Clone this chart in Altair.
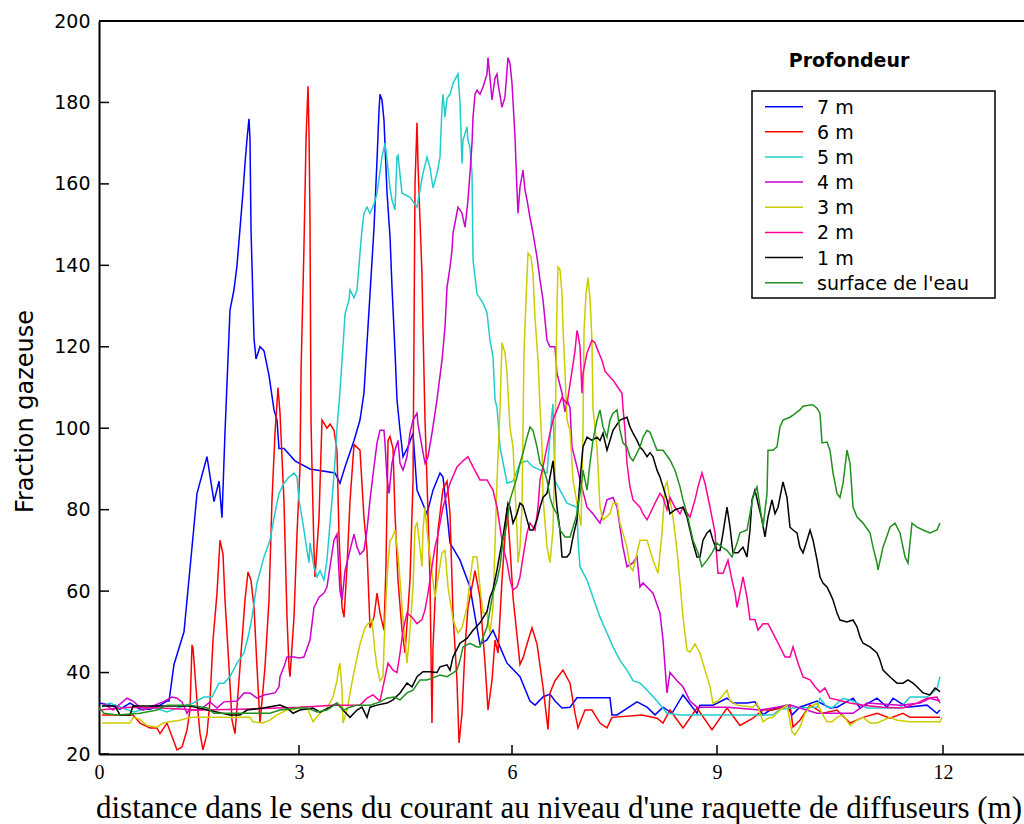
import altair as alt
import pandas as pd

SERIES = ["7 m", "6 m", "5 m", "4 m", "3 m", "2 m", "1 m", "surface de l'eau"]
COLORS = ["#0000ff", "#ff0000", "#22cccc", "#cc00cc", "#cccc00", "#ff0099", "#000000", "#209020"]
X_TICKS = [0, 3, 6, 9, 12]
Y_TICKS = [20, 40, 60, 80, 100, 120, 140, 160, 180, 200]

P_7M = [(0, 32.5), (0.165, 32), (0.315, 31), (0.465, 32.5), (0.615, 31), (0.765, 31), (0.915, 32), (1.02, 33),
        (1.05, 33), (1.125, 42), (1.275, 50), (1.425, 76), (1.47, 84), (1.62, 93), (1.725, 82), (1.80, 87),
        (1.845, 78), (1.89, 99), (1.965, 129), (2.025, 134), (2.07, 140), (2.115, 149), (2.16, 158), (2.19, 165),
        (2.22, 171), (2.25, 176), (2.265, 171), (2.28, 149), (2.325, 122), (2.355, 117), (2.415, 120), (2.475, 119),
        (2.55, 113), (2.625, 104.5), (2.67, 102), (2.70, 95), (2.775, 95), (2.94, 92), (3.155, 90), (3.507, 89),
        (3.577, 86.5), (3.648, 90.5), (3.775, 97), (3.859, 102), (3.915, 108.6), (4.0, 133), (4.056, 149),
        (4.099, 166), (4.127, 178), (4.141, 182), (4.169, 180.6), (4.197, 175.6), (4.239, 158), (4.282, 147),
        (4.31, 134.6), (4.352, 119), (4.38, 107), (4.423, 99.5), (4.465, 93), (4.535, 95.4), (4.606, 98.8),
        (4.662, 84.8), (4.803, 79), (4.887, 84.8), (4.986, 89), (5.028, 88), (5.085, 79), (5.127, 71.8),
        (5.268, 67.6), (5.408, 61), (5.507, 51), (5.549, 47), (5.648, 48), (5.732, 50.4), (5.831, 46.3),
        (5.93, 42.3), (6.117, 39), (6.263, 33), (6.337, 32), (6.454, 34), (6.556, 34.7), (6.629, 33),
        (6.732, 31.3), (6.849, 31.5), (6.951, 33.8), (7.434, 33.8), (7.463, 29.6), (7.537, 29.6), (7.829, 32.8),
        (7.976, 31.5), (8.093, 29.6), (8.21, 31.5), (8.342, 30), (8.502, 34.5), (8.707, 30), (8.751, 32),
        (8.941, 32), (9.133, 33.7), (9.212, 32.5), (9.398, 32.5), (9.504, 32.8), (9.611, 29.6), (9.704, 30.8),
        (9.929, 32), (9.996, 29.6), (10.10, 31.5), (10.328, 33), (10.50, 31.3), (10.593, 31.5), (10.806, 33.7),
        (10.899, 31.3), (11.124, 33.7), (11.257, 31.5), (11.337, 33.7), (11.522, 31.5), (11.788, 32),
        (11.92, 30), (11.96, 30.8)]

P_6M = [(0.045, 29.6), (0.51, 29.6), (0.615, 27.6), (0.765, 26.4), (0.87, 26.4), (0.915, 25), (1.02, 27.6),
        (1.17, 21), (1.245, 21.7), (1.32, 25.9), (1.365, 30.8), (1.395, 46.8), (1.41, 46), (1.47, 33),
        (1.515, 25), (1.56, 21), (1.62, 25), (1.665, 33), (1.71, 48), (1.77, 59.5), (1.815, 72.5), (1.86, 69),
        (1.89, 57.8), (1.95, 41.4), (1.995, 28.3), (2.04, 25), (2.115, 41.4), (2.19, 57.8), (2.235, 64.7),
        (2.28, 62.7), (2.325, 56), (2.37, 41.4), (2.415, 27.6), (2.445, 33), (2.49, 41.4), (2.55, 57.8),
        (2.595, 82.4), (2.64, 98.8), (2.685, 110), (2.715, 103.7), (2.775, 82), (2.82, 53.6), (2.85, 41.4),
        (2.865, 39), (2.925, 53.6), (2.97, 74), (3.014, 90.5), (3.03, 115), (3.07, 144.5), (3.1, 171.5),
        (3.127, 184), (3.141, 172.5), (3.155, 151), (3.169, 102), (3.183, 90.5), (3.211, 70), (3.225, 63.5),
        (3.282, 78), (3.324, 102), (3.394, 100), (3.437, 101), (3.493, 99.5), (3.535, 94.6), (3.563, 74),
        (3.606, 56), (3.634, 53.6), (3.676, 66), (3.718, 82), (3.775, 96), (3.859, 94.6), (3.915, 78),
        (3.958, 70), (4.0, 51), (4.056, 53.6), (4.099, 59.5), (4.141, 54.6), (4.197, 50.4), (4.225, 66),
        (4.254, 97), (4.282, 98), (4.324, 95), (4.352, 79), (4.394, 62.7), (4.451, 50.4), (4.493, 44.8),
        (4.563, 62.7), (4.606, 87), (4.634, 160), (4.662, 175), (4.676, 165), (4.704, 151), (4.732, 138),
        (4.746, 125), (4.775, 102), (4.803, 87), (4.845, 62.7), (4.873, 27.6), (4.887, 46), (4.958, 75),
        (5.028, 85), (5.085, 87), (5.127, 79), (5.169, 54.6), (5.225, 38), (5.254, 22.7), (5.296, 30),
        (5.338, 46), (5.38, 56), (5.479, 65), (5.549, 58.5), (5.62, 42.3), (5.662, 30.8), (5.718, 38),
        (5.761, 48), (5.803, 44.8), (5.859, 62.7), (5.93, 80.6), (5.972, 70.8), (6.015, 58.5), (6.117, 42),
        (6.161, 43.6), (6.22, 47), (6.293, 51), (6.366, 47), (6.454, 36.4), (6.527, 26), (6.556, 35),
        (6.629, 38), (6.746, 40.6), (6.849, 37.4), (6.922, 30), (6.966, 26.4), (7.068, 30.8), (7.17, 30.8),
        (7.288, 27.6), (7.39, 26.4), (7.463, 29), (7.902, 29.6), (8.122, 28.8), (8.21, 27.6), (8.312, 30.8),
        (8.502, 26.4), (8.707, 31.3), (8.927, 26), (9.133, 31.3), (9.305, 27), (9.478, 28.8), (9.611, 30.8),
        (9.743, 30.8), (9.876, 31.5), (9.969, 32), (10.009, 26.6), (10.10, 28.3), (10.235, 32), (10.407, 30),
        (10.593, 30.8), (10.766, 27.6), (10.939, 29), (11.124, 30), (11.297, 28.8), (11.469, 30), (11.562, 29),
        (11.96, 29)]

P_5M = [(0.045, 31.8), (0.165, 32.5), (0.51, 30.3), (0.81, 31.5), (1.02, 30.3), (1.215, 31.5), (1.41, 32.5),
        (1.575, 34), (1.695, 34), (1.80, 37.4), (1.875, 37.4), (1.965, 39), (2.07, 42.3), (2.175, 44.8),
        (2.25, 49.7), (2.295, 53.6), (2.37, 62), (2.475, 68.4), (2.565, 72.5), (2.625, 78), (2.70, 84),
        (2.775, 86.5), (2.85, 88), (2.925, 89), (2.97, 88), (3.0, 82.4), (3.07, 75), (3.113, 70), (3.141, 67),
        (3.155, 71.8), (3.211, 66), (3.254, 63.5), (3.296, 65), (3.352, 62.7), (3.394, 67.6), (3.437, 76.7),
        (3.465, 82.4), (3.507, 92), (3.535, 100), (3.577, 109), (3.634, 124), (3.648, 128), (3.704, 131.5),
        (3.718, 134), (3.775, 132), (3.817, 134), (3.859, 143), (3.887, 148.7), (3.915, 152.8), (3.958, 154.3),
        (4.0, 152.8), (4.056, 155), (4.099, 157.7), (4.141, 163), (4.169, 166.6), (4.211, 170), (4.239, 166),
        (4.282, 159), (4.31, 156), (4.352, 153.6), (4.38, 166.6), (4.394, 167), (4.451, 157.7), (4.563, 156.7),
        (4.662, 154.3), (4.704, 158.5), (4.746, 162.6), (4.803, 166.6), (4.845, 164), (4.887, 159),
        (4.944, 162.6), (4.986, 166.6), (5.014, 178.8), (5.028, 182), (5.056, 176.4), (5.085, 181),
        (5.127, 182), (5.169, 184.7), (5.239, 187), (5.268, 180), (5.296, 165), (5.31, 170.7), (5.366, 174),
        (5.38, 170.7), (5.408, 169), (5.437, 162.6), (5.451, 141.3), (5.507, 133), (5.592, 130.7),
        (5.648, 128.3), (5.69, 121.6), (5.732, 117.5), (5.761, 107), (5.789, 105), (5.831, 95.4), (5.93, 86.5),
        (6.015, 87), (6.117, 91.4), (6.22, 92), (6.307, 90.5), (6.512, 89), (6.585, 103.7), (6.6, 106),
        (6.629, 87), (6.702, 84.8), (6.805, 81.6), (6.951, 80.6), (6.966, 72.5), (6.995, 66), (7.098, 62.7),
        (7.185, 58.5), (7.288, 53.6), (7.39, 49.7), (7.478, 46.3), (7.58, 43), (7.683, 40.6), (7.771, 38),
        (7.873, 37.4), (7.976, 35.7), (8.122, 33), (8.268, 30), (8.459, 29.6), (9.743, 29.6), (9.836, 31),
        (10.009, 31.3), (10.328, 31.5), (10.367, 33.7), (10.46, 31.5), (10.54, 31.5), (10.673, 33.7),
        (10.806, 33), (10.991, 31.3), (11.429, 31.3), (11.562, 34), (11.788, 34), (11.92, 36), (11.96, 39)]

P_4M = [(0.06, 32.5), (0.21, 30.8), (0.42, 33.7), (0.51, 33), (0.66, 30.8), (0.96, 32.8), (1.095, 34),
        (1.17, 33.7), (1.245, 32.8), (1.32, 30), (1.35, 30.8), (1.515, 30.8), (1.665, 32.8), (1.77, 31.3),
        (1.875, 32.8), (2.07, 33), (2.175, 35), (2.265, 35), (2.37, 33.7), (2.475, 34.5), (2.64, 35),
        (2.70, 36.5), (2.715, 39), (2.775, 41.4), (2.82, 43.8), (2.925, 43.8), (3.0, 43.6), (3.07, 43.8),
        (3.155, 48), (3.211, 56), (3.282, 58.5), (3.352, 59.5), (3.394, 61), (3.437, 66), (3.493, 72.5),
        (3.535, 74), (3.577, 60), (3.606, 57.8), (3.648, 65), (3.718, 70), (3.775, 74), (3.817, 70.8),
        (3.859, 69), (3.915, 70), (3.958, 75), (4.0, 82.4), (4.056, 90.5), (4.099, 96.4), (4.141, 99.5),
        (4.197, 99.5), (4.211, 96.4), (4.239, 88), (4.268, 84), (4.31, 91.4), (4.352, 94.6), (4.394, 97),
        (4.423, 91.4), (4.465, 89.7), (4.521, 93), (4.563, 98.8), (4.606, 102), (4.662, 103.7), (4.676, 101),
        (4.732, 95.4), (4.775, 91.4), (4.817, 93), (4.873, 98.8), (4.944, 107), (5.014, 116.7), (5.056, 124.8),
        (5.085, 134.6), (5.127, 139.6), (5.155, 143.7), (5.169, 147.9), (5.197, 150.4), (5.239, 154.3),
        (5.296, 152.8), (5.338, 149.4), (5.366, 153.6), (5.38, 156), (5.408, 162.6), (5.437, 170),
        (5.451, 176.4), (5.479, 182), (5.507, 183), (5.549, 182), (5.592, 183.8), (5.648, 187), (5.662, 191),
        (5.69, 186), (5.718, 180.6), (5.761, 186), (5.789, 187), (5.803, 184.7), (5.859, 178.8), (5.901, 181.3),
        (5.93, 188), (5.944, 191), (5.972, 189.6), (6.0, 184.7), (6.044, 171.5), (6.073, 158.5), (6.088, 152.8),
        (6.117, 159.2), (6.161, 163.4), (6.19, 158.5), (6.22, 156), (6.263, 151.8), (6.307, 147.9),
        (6.366, 142), (6.41, 136.4), (6.454, 131.5), (6.512, 121.6), (6.556, 120), (6.629, 120),
        (6.658, 113.5), (6.732, 108.6), (6.776, 104), (6.805, 107), (6.849, 105), (6.878, 95.4), (6.951, 90.5),
        (6.995, 87.3), (7.098, 80.6), (7.185, 79), (7.288, 76.7), (7.332, 79), (7.39, 82.4), (7.478, 83),
        (7.537, 80.6), (7.58, 75.7), (7.624, 70.8), (7.683, 66), (7.771, 67), (7.829, 68.4), (7.873, 61),
        (7.917, 62), (7.976, 61), (8.064, 59.5), (8.166, 54.6), (8.21, 48), (8.268, 35), (8.312, 40),
        (8.415, 38), (8.502, 36.5), (8.605, 33), (8.707, 31.5), (9.133, 31.5), (9.571, 30.8), (9.969, 32),
        (10.328, 30), (10.806, 30), (10.991, 32.5), (11.429, 32), (11.695, 32.5), (11.827, 33.7), (11.96, 33)]

P_3M = [(0.045, 27.6), (0.465, 27.6), (0.51, 29), (0.615, 28.5), (0.72, 27), (0.87, 26.6), (0.96, 27.6),
        (1.065, 27.9), (1.215, 28.3), (1.32, 28.8), (1.41, 29), (2.265, 29), (2.31, 27.9), (2.46, 27.6),
        (2.565, 28.3), (2.67, 29.6), (2.82, 30.8), (2.91, 30.8), (3.014, 31.5), (3.113, 31.5), (3.197, 27.9),
        (3.296, 30), (3.394, 31.3), (3.479, 34), (3.535, 38), (3.563, 41.4), (3.577, 42.3), (3.606, 35.7),
        (3.62, 27.6), (3.676, 30.8), (3.761, 39), (3.859, 47), (3.93, 51), (3.972, 52), (4.028, 53),
        (4.07, 45), (4.099, 41.4), (4.141, 38), (4.183, 39), (4.197, 46.3), (4.225, 57.8), (4.254, 67),
        (4.282, 72.5), (4.31, 73), (4.352, 75), (4.394, 69), (4.423, 62.7), (4.465, 53), (4.521, 42.3),
        (4.563, 50.4), (4.606, 61), (4.634, 75.7), (4.662, 76.7), (4.676, 75), (4.732, 66), (4.746, 75),
        (4.775, 80.6), (4.817, 72.5), (4.915, 58.5), (5.014, 69.4), (5.056, 70), (5.099, 61), (5.169, 53),
        (5.239, 49.7), (5.296, 51), (5.366, 56), (5.408, 62.7), (5.451, 68.4), (5.507, 68.4), (5.549, 61),
        (5.592, 54.6), (5.648, 54.6), (5.69, 49.7), (5.732, 56), (5.789, 87), (5.831, 105), (5.859, 121),
        (5.901, 118.5), (5.93, 113.5), (5.972, 100), (6.015, 95.4), (6.073, 75), (6.088, 67), (6.117, 70.8),
        (6.146, 80.6), (6.161, 99.5), (6.175, 118.5), (6.205, 131.5), (6.234, 143), (6.278, 142), (6.307, 138),
        (6.337, 127), (6.381, 116.7), (6.41, 105), (6.44, 95.4), (6.454, 83), (6.512, 70.8), (6.556, 67),
        (6.6, 75), (6.629, 95.4), (6.658, 129.8), (6.673, 139.6), (6.702, 139), (6.732, 133), (6.746, 124.8),
        (6.776, 113.5), (6.805, 102), (6.849, 99.5), (6.893, 87.3), (6.951, 81.6), (7.01, 76), (7.039, 100),
        (7.054, 124), (7.083, 133), (7.112, 137), (7.141, 132), (7.17, 121.6), (7.185, 105), (7.244, 95.4),
        (7.288, 80.6), (7.332, 77.5), (7.434, 79), (7.478, 81.6), (7.537, 81.6), (7.58, 76.7), (7.683, 70.8),
        (7.727, 66), (7.771, 65), (7.829, 69.4), (7.873, 72.5), (7.976, 72.5), (8.064, 67.6), (8.137, 64.4),
        (8.195, 74.3), (8.239, 85.6), (8.268, 86.8), (8.312, 82.4), (8.356, 78.2), (8.415, 70), (8.459, 62),
        (8.502, 53.6), (8.561, 45.5), (8.605, 45), (8.678, 47), (8.751, 44.8), (8.824, 40.6), (8.898, 36.5),
        (8.941, 32.5), (9.013, 33), (9.08, 34.5), (9.133, 35.7), (9.173, 33), (9.266, 32), (9.478, 31.5),
        (9.531, 32.5), (9.571, 30), (9.611, 27.9), (9.677, 28.8), (9.743, 29), (9.836, 30.8), (9.929, 32),
        (9.996, 25.4), (10.035, 24.7), (10.10, 26.6), (10.169, 30), (10.235, 31.5), (10.328, 32.5),
        (10.394, 30), (10.46, 27.9), (10.527, 27.9), (10.593, 29), (10.673, 29.6), (10.766, 27), (10.859, 28.3),
        (10.939, 29), (11.031, 27.6), (11.124, 27.6), (11.297, 29), (11.39, 28.3), (11.562, 27.9),
        (11.96, 27.9), (11.987, 29)]

P_2M = [(0, 30.8), (0.465, 31.5), (0.915, 31.3), (1.515, 30.8), (2.115, 31), (3.014, 31.5), (3.479, 32),
        (3.859, 32), (3.958, 33.7), (4.042, 34.5), (4.141, 33), (4.183, 36.5), (4.254, 42.3), (4.324, 40.6),
        (4.38, 40), (4.423, 44.8), (4.465, 50.4), (4.521, 54.6), (4.592, 53.6), (4.662, 52), (4.732, 53),
        (4.775, 55.4), (4.817, 59.5), (4.873, 66), (4.915, 70.8), (4.958, 74), (5.028, 80.6), (5.127, 86.5),
        (5.225, 90.5), (5.31, 92), (5.38, 93), (5.451, 90.5), (5.549, 87.3), (5.648, 87.3), (5.732, 84.8),
        (5.789, 80.6), (5.831, 75.7), (5.873, 70.8), (5.93, 67), (5.972, 62.7), (6.015, 60.3), (6.073, 61),
        (6.117, 63.5), (6.161, 68.4), (6.22, 74.3), (6.263, 76.7), (6.337, 75), (6.381, 80.6), (6.41, 87.3),
        (6.454, 90.5), (6.512, 95.4), (6.556, 98.8), (6.6, 102), (6.658, 104.5), (6.732, 107.6), (6.805, 106),
        (6.878, 114), (6.922, 119), (6.951, 124), (6.966, 123), (6.995, 120), (7.024, 108.6), (7.039, 113.5),
        (7.098, 118.5), (7.17, 121.6), (7.214, 121), (7.258, 119), (7.317, 116.7), (7.361, 114), (7.434, 112.6),
        (7.478, 111.8), (7.551, 110), (7.61, 108.6), (7.624, 105), (7.654, 99.5), (7.683, 91.4), (7.727, 85.6),
        (7.771, 82.4), (7.873, 80.6), (7.917, 79), (7.976, 77.5), (8.02, 79), (8.093, 81.6), (8.166, 84),
        (8.21, 83), (8.268, 80), (8.312, 83), (8.385, 80.6), (8.459, 79), (8.502, 80.6), (8.605, 78.2),
        (8.678, 82.4), (8.722, 85.6), (8.78, 89), (8.824, 86.5), (8.898, 80.6), (8.971, 74.3), (9.013, 64.4),
        (9.08, 64.4), (9.146, 67.6), (9.199, 62.7), (9.239, 59.5), (9.266, 56), (9.305, 59.5), (9.345, 63.5),
        (9.398, 58.5), (9.438, 53), (9.504, 53), (9.544, 50.4), (9.611, 52), (9.677, 52), (9.743, 49.7),
        (9.836, 46.3), (9.903, 43.8), (9.969, 43.8), (10.009, 46.3), (10.076, 42.3), (10.142, 38.9),
        (10.235, 38.2), (10.302, 36.5), (10.367, 35.2), (10.434, 36.2), (10.50, 33.7), (10.593, 33.3),
        (10.766, 32.5), (10.939, 32), (11.204, 31.5), (11.469, 31.3), (11.655, 32.5), (11.788, 33.7),
        (11.92, 34), (11.96, 32.5)]

P_1M = [(0.045, 31.8), (0.24, 31.8), (0.315, 29.6), (0.465, 29.6), (0.51, 31.8), (1.365, 31.8), (1.965, 29.6),
        (2.115, 29.6), (2.22, 30.8), (2.46, 31.3), (2.715, 32), (2.82, 31.3), (2.91, 30), (3.014, 30.8),
        (3.197, 31.3), (3.296, 30.3), (3.437, 31.5), (3.535, 32.5), (3.62, 30.8), (3.718, 29), (3.817, 30.8),
        (3.887, 31.5), (3.958, 29), (4.0, 31.5), (4.099, 32), (4.239, 32.5), (4.324, 33.3), (4.423, 35),
        (4.521, 37.4), (4.592, 36.5), (4.662, 39), (4.746, 40.2), (4.845, 40.2), (4.944, 40), (4.986, 41.4),
        (5.085, 41.9), (5.127, 40.6), (5.169, 43.8), (5.268, 47.2), (5.366, 48.4), (5.451, 50.4), (5.549, 52.2),
        (5.648, 55), (5.69, 58.5), (5.732, 60.3), (5.789, 65.2), (5.831, 69.4), (5.873, 73.3), (5.93, 80),
        (5.944, 81.6), (5.972, 80.6), (6.015, 76.7), (6.073, 79), (6.117, 81.6), (6.161, 81), (6.22, 77.5),
        (6.263, 75), (6.307, 75), (6.366, 77.5), (6.41, 80.6), (6.454, 83), (6.512, 84), (6.556, 88), (6.6, 92),
        (6.658, 80.6), (6.702, 75), (6.732, 68.4), (6.805, 68.4), (6.849, 69.4), (6.893, 73.3), (6.951, 77.5),
        (6.995, 87.3), (7.039, 95.4), (7.098, 97.8), (7.17, 97), (7.244, 97.8), (7.288, 97), (7.332, 98.8),
        (7.39, 94.6), (7.434, 97), (7.478, 99.5), (7.58, 102), (7.683, 102.7), (7.727, 100.3), (7.771, 98.8),
        (7.829, 97), (7.873, 95.4), (7.917, 94.6), (7.976, 93), (8.02, 94), (8.064, 93), (8.122, 89.7),
        (8.166, 88), (8.21, 85.6), (8.268, 82.4), (8.312, 79), (8.385, 80), (8.502, 80.6), (8.561, 78.2),
        (8.605, 75), (8.649, 71.8), (8.707, 68.4), (8.751, 68.4), (8.795, 72.5), (8.854, 74.3), (8.898, 75),
        (8.941, 72.5), (9.0, 70), (9.04, 70), (9.08, 74.3), (9.133, 80.6), (9.173, 75.7), (9.212, 69.4),
        (9.279, 69.4), (9.345, 70.8), (9.398, 68.4), (9.438, 75), (9.465, 82.4), (9.504, 84.8), (9.544, 81.6),
        (9.597, 77.5), (9.637, 73.3), (9.677, 78.2), (9.73, 82.4), (9.77, 79), (9.81, 80.6), (9.863, 85.6),
        (9.876, 86.8), (9.929, 83), (9.969, 75.7), (10.009, 75), (10.062, 74.3), (10.10, 70.8), (10.142, 69.4),
        (10.195, 72.5), (10.235, 75), (10.275, 72.5), (10.328, 67.6), (10.367, 63.5), (10.407, 62), (10.46, 61),
        (10.50, 59.5), (10.54, 57.8), (10.593, 54.6), (10.633, 52.9), (10.726, 52.4), (10.806, 52.9),
        (10.859, 51.2), (10.899, 48.7), (10.939, 47.2), (11.031, 46.3), (11.124, 44.8), (11.164, 43),
        (11.204, 40.6), (11.297, 38.9), (11.39, 37.4), (11.469, 37.4), (11.535, 38.2), (11.602, 37.4),
        (11.655, 36.5), (11.735, 35), (11.827, 34.5), (11.894, 36.2), (11.934, 35.7), (11.96, 35.2)]

P_SURF = [(0, 31.5), (0.075, 30), (0.27, 29.6), (0.615, 30), (0.87, 30.8), (1.02, 32), (1.365, 32), (1.62, 31.3),
          (1.725, 30), (2.565, 30), (2.715, 30.8), (2.97, 31.3), (3.113, 31.3), (3.254, 30.3), (3.394, 30.8),
          (3.535, 32.5), (3.634, 30.8), (3.718, 31.5), (3.817, 32), (4.0, 32), (4.141, 32.8), (4.239, 33.7),
          (4.338, 34), (4.423, 33.3), (4.521, 35), (4.606, 35.7), (4.704, 38.2), (4.803, 38.2), (4.887, 38.7),
          (4.986, 39.4), (5.085, 39), (5.169, 39.9), (5.225, 40.6), (5.268, 43), (5.31, 46.3), (5.408, 47.2),
          (5.507, 46.3), (5.549, 46.3), (5.592, 48.7), (5.648, 51.2), (5.69, 55.4), (5.732, 59.5), (5.789, 62.7),
          (5.831, 66), (5.873, 72.5), (5.93, 76.7), (5.972, 82.4), (6.015, 84.8), (6.073, 88), (6.117, 91.4),
          (6.161, 93.9), (6.22, 97.8), (6.263, 100.3), (6.307, 99.5), (6.366, 95.4), (6.41, 91.4), (6.454, 90.5),
          (6.512, 87.3), (6.556, 83), (6.6, 80.6), (6.658, 79), (6.702, 75), (6.776, 73.3), (6.849, 73.3),
          (6.893, 75.7), (6.951, 79), (6.995, 84), (7.024, 87.3), (7.039, 89.7), (7.098, 84.8), (7.141, 91.4),
          (7.185, 97), (7.244, 102), (7.288, 104.5), (7.332, 100.3), (7.39, 97.8), (7.434, 102), (7.478, 103.7),
          (7.537, 104.5), (7.58, 99.5), (7.624, 96.4), (7.683, 95.4), (7.727, 92.9), (7.771, 92), (7.873, 95.4),
          (7.917, 97.8), (7.976, 99.5), (8.02, 99), (8.122, 94.6), (8.21, 94.6), (8.312, 92.2), (8.385, 89.7),
          (8.459, 85.6), (8.502, 82.4), (8.561, 79), (8.605, 75.7), (8.649, 72.5), (8.722, 69.4), (8.78, 66),
          (8.854, 67.6), (8.927, 69.4), (9.0, 71.8), (9.066, 70.8), (9.133, 70), (9.199, 68.4), (9.266, 71.8),
          (9.305, 74.3), (9.398, 75), (9.438, 79), (9.478, 83), (9.531, 85.6), (9.571, 80.6), (9.611, 75.7),
          (9.664, 84), (9.677, 94.6), (9.743, 94.6), (9.796, 95.4), (9.836, 100.3), (9.876, 102), (9.969, 102.7),
          (10.009, 103.2), (10.10, 104.5), (10.142, 105.4), (10.235, 105.7), (10.275, 105.7), (10.328, 104.9),
          (10.367, 103.7), (10.394, 96.4), (10.46, 96.6), (10.50, 94.6), (10.54, 89), (10.593, 84), (10.633, 83),
          (10.673, 86.5), (10.726, 94.6), (10.766, 91.4), (10.806, 80.6), (10.859, 78.2), (10.939, 76.7),
          (11.031, 74.3), (11.071, 70.8), (11.124, 66.9), (11.137, 65.2), (11.204, 70.8), (11.297, 75.7),
          (11.363, 76.7), (11.429, 74.3), (11.496, 68.4), (11.535, 66.9), (11.588, 76.7), (11.655, 75.7),
          (11.735, 75), (11.827, 74.3), (11.92, 75), (11.96, 76.7)]

ALL_POINTS = [P_7M, P_6M, P_5M, P_4M, P_3M, P_2M, P_1M, P_SURF]

rows = []
for name, pts in zip(SERIES, ALL_POINTS):
    for i, (xv, yv) in enumerate(pts):
        rows.append({"serie": name, "x": xv, "y": yv, "i": i})
df = pd.DataFrame(rows)

W, H = 925, 733
SANS = "DejaVu Sans"
SERIF = "Liberation Serif"

xscale = alt.Scale(domain=[0, 3, 6, 9, 12, 13.08], range=[0, 200, 413, 618, 844, 925], nice=False, zero=False)
yscale = alt.Scale(domain=[20, 200], nice=False, zero=False)

X_AXIS = alt.Axis(values=X_TICKS, title="distance dans le sens du courant au niveau d'une raquette de diffuseurs (m)",
                  titleFont=SERIF, titleFontSize=31, titleFontWeight="normal", titleColor="black",
                  titleX=W / 2 - 3, titleY=63, titleAlign="center", titleBaseline="alphabetic",
                  labelFont=SERIF, labelFontSize=20, labelColor="black", labelPadding=8, labelFlush=False,
                  labelOverlap=False, ticks=False, tickSize=0, domainColor="black", domainWidth=2, grid=False)
Y_AXIS = alt.Axis(values=Y_TICKS, title="Fraction gazeuse",
                  titleFont=SANS, titleFontSize=24, titleFontWeight="normal", titleColor="black",
                  titleX=-74, titleY=390, titleAngle=270, titleAlign="center", titleBaseline="middle",
                  labelFont=SANS, labelFontSize=19, labelColor="black", labelPadding=9, labelFlush=False,
                  labelOverlap=False, ticks=False, tickSize=0, domainColor="black", domainWidth=2, grid=False)

lines = alt.Chart(df).mark_line(strokeWidth=1.5, clip=True).encode(
    x=alt.X("x:Q", scale=xscale, axis=X_AXIS),
    y=alt.Y("y:Q", scale=yscale, axis=Y_AXIS),
    color=alt.Color("serie:N", scale=alt.Scale(domain=SERIES, range=COLORS), legend=None),
    order=alt.Order("i:Q"),
)

ytick_df = pd.DataFrame({"y": Y_TICKS})
yticks = alt.Chart(ytick_df).mark_rule(color="black", strokeWidth=1.5).encode(
    y=alt.Y("y:Q", scale=yscale, axis=Y_AXIS), x=alt.value(0), x2=alt.value(10))

xtick_df = pd.DataFrame({"x": X_TICKS[1:]})
xticks = alt.Chart(xtick_df).mark_rule(color="black", strokeWidth=1.5).encode(
    x=alt.X("x:Q", scale=xscale, axis=X_AXIS), y=alt.value(H - 9), y2=alt.value(H))

one = pd.DataFrame({"k": [0]})
top_border = alt.Chart(one).mark_rule(color="black", strokeWidth=2).encode(
    x=alt.value(0), x2=alt.value(W), y=alt.value(0))

# legend
LX0, LY0, LX1, LY1 = 653, 70, 896, 277
legend_box = alt.Chart(one).mark_rect(fill="white", stroke="black", strokeWidth=1.5).encode(
    x=alt.value(LX0), x2=alt.value(LX1), y=alt.value(LY0), y2=alt.value(LY1))
legend_title = alt.Chart(pd.DataFrame({"t": ["Profondeur"]})).mark_text(
    font=SANS, fontSize=19, fontWeight="bold", color="black", align="center", baseline="middle").encode(
    x=alt.value(750), y=alt.value(40), text="t:N")

legend_layers = []
for k, (name, col) in enumerate(zip(SERIES, COLORS)):
    yy = 85.7 + k * 25.14
    ldf = pd.DataFrame({"serie": [name]})
    legend_layers.append(alt.Chart(ldf).mark_rule(color=col, strokeWidth=1.5).encode(
        x=alt.value(666), x2=alt.value(704), y=alt.value(yy)))
    legend_layers.append(alt.Chart(ldf).mark_text(
        font=SANS, fontSize=19, color="black", align="left", baseline="middle").encode(
        x=alt.value(718), y=alt.value(yy + 1), text="serie:N"))

chart = alt.layer(lines, yticks, xticks, top_border, legend_box, legend_title, *legend_layers).properties(
    width=W, height=H,
    padding={"left": 99, "top": 21, "right": 0, "bottom": 70},
    autosize=alt.AutoSizeParams(type="none"),
    background="white",
).configure_view(stroke=None)

chart.save("out.html", embed_options={"renderer": "svg", "actions": False})
